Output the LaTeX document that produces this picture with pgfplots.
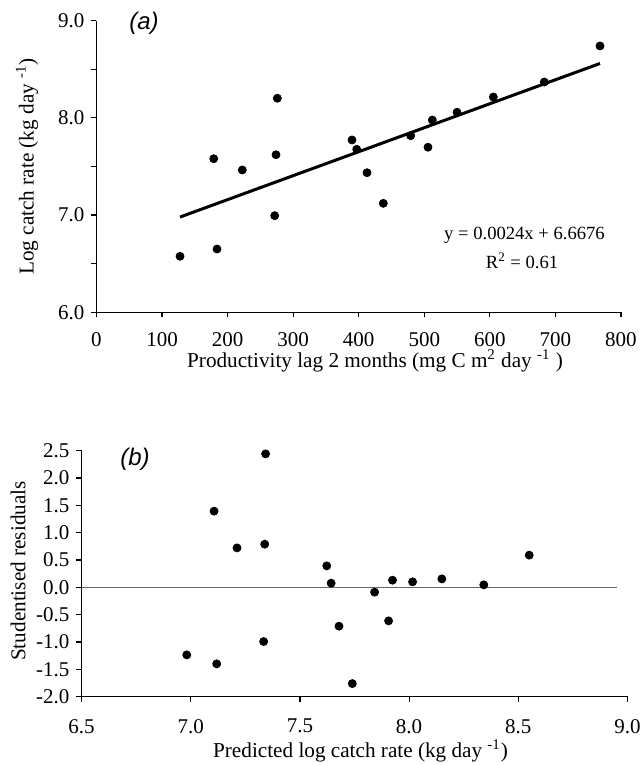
\documentclass[border=0pt]{standalone}
\usepackage{fontspec}
\setmainfont{Liberation Serif}
\newfontfamily\arialfont{Liberation Sans}
\usepackage{pgfplots}
\usepackage{pgfplotstable}
\pgfplotsset{compat=1.18}

\pgfplotstableread{
x y
127.4 6.576
178.8 7.580
183.8 6.651
222.4 7.464
271.8 6.994
273.8 7.621
275.8 8.202
389.7 7.773
396.9 7.677
412.6 7.436
437.5 7.121
479.2 7.817
505.6 7.698
512.2 7.978
549.9 8.058
605.3 8.215
683.0 8.369
768.0 8.740
}\dataA

\pgfplotstableread{
x y
6.982 -1.235
7.107 1.394
7.119 -1.399
7.212 0.722
7.334 -0.991
7.339 0.790
7.343 2.442
7.623 0.393
7.643 0.077
7.679 -0.710
7.740 -1.760
7.842 -0.088
7.906 -0.613
7.924 0.131
8.016 0.101
8.150 0.155
8.342 0.046
8.550 0.589
}\dataB

\pgfplotsset{
  common/.style={
    scale only axis,
    anchor=south west,
    axis lines*=left,
    axis line style={line width=0.6pt},
    tick align=outside,
    major tick length=2.5pt,
    minor tick length=2.5pt,
    tick style={line width=0.6pt,black},
    /pgf/number format/assume math mode=true,
    tick label style={font=\fontsize{10.5}{12}\selectfont},
    label style={font=\fontsize{10.6}{12}\selectfont, inner sep=0pt},
    clip=false,
  },
  onedec/.style={/pgf/number format/fixed,/pgf/number format/fixed zerofill,/pgf/number format/precision=1},
}

\begin{document}
\begin{tikzpicture}
\useasboundingbox (0,0) rectangle (320.5pt,382.5pt);
% ---------- (a) ----------
\begin{axis}[
  common,
  at={(48.25pt,226.35pt)},
  width=262.25pt, height=145.8pt,
  xmin=0, xmax=800, ymin=6, ymax=9,
  xtick={0,100,...,800},
  ytick={6,7,8,9},
  minor ytick={6.5,7.5,8.5},
  yticklabel style={onedec},
  xticklabel style={inner sep=0.5pt, yshift=-7pt},
  xlabel={Productivity lag 2 months (mg C m\textsuperscript{2} day \textsuperscript{-1} )},
  xlabel style={at={(axis description cs:0.531,-0.168)},anchor=center},
  ylabel={Log catch rate (kg day \textsuperscript{-1})},
  ylabel style={at={(axis description cs:-0.1325,0.5)},anchor=center},
]
\addplot[black, line width=1.5pt] coordinates {(127.4,6.98) (768,8.56)};
\addplot[only marks, mark=*, mark size=2pt, black] table[x=x,y=y] {\dataA};
\node[font=\arialfont\itshape\fontsize{12}{14}\selectfont] at (axis cs:72.5,8.976) {(a)};
\node[font=\fontsize{9.3}{11}\selectfont] at (axis cs:652.8,6.795) {y = 0.0024x + 6.6676};
\node[font=\fontsize{9.3}{11}\selectfont] at (axis cs:649,6.528) {R\textsuperscript{2} = 0.61};
\end{axis}
% ---------- (b) ----------
\begin{axis}[
  common,
  at={(40.75pt,34.15pt)},
  width=273pt, height=123pt,
  xmin=6.5, xmax=9, ymin=-2, ymax=2.5,
  xtick={6.5,7,...,9},
  ytick={-2,-1.5,...,2.5},
  xticklabel style={inner sep=1pt, yshift=-7.5pt,onedec},
  yticklabel style={onedec},
  xlabel={Predicted log catch rate (kg day \textsuperscript{-1})},
  xlabel style={at={(axis description cs:0.511,-0.222)},anchor=center},
  ylabel={Studentised residuals},
  ylabel style={at={(axis description cs:-0.1163,0.511)},anchor=center},
]
\addplot[gray!80!black, line width=0.6pt] coordinates {(6.5,0) (8.95,0)};
\addplot[only marks, mark=*, mark size=2pt, black] table[x=x,y=y] {\dataB};
\node[font=\arialfont\itshape\fontsize{12}{14}\selectfont] at (axis cs:6.745,2.35) {(b)};
\end{axis}
\end{tikzpicture}
\end{document}
